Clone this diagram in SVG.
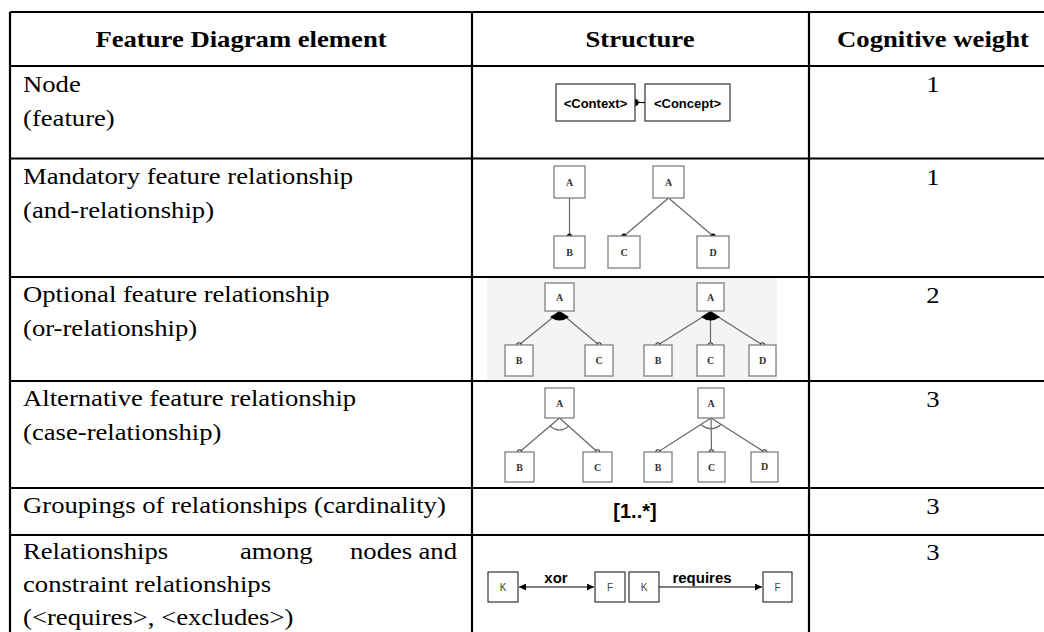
<svg xmlns="http://www.w3.org/2000/svg" width="1044" height="632" viewBox="0 0 1044 632">
<style>
.grid{stroke:#000;stroke-width:2.2;fill:none}
.hd{font-family:"Liberation Serif","Times New Roman",serif;font-weight:bold;font-size:23px;fill:#000;text-anchor:middle}
.tx{font-family:"Liberation Serif","Times New Roman",serif;font-size:23px;fill:#000}
.num{font-family:"Liberation Serif","Times New Roman",serif;font-size:23px;fill:#000;text-anchor:middle}
.box{fill:#fff;stroke:#808080;stroke-width:1.3}
.nbox{fill:#fff;stroke:#333;stroke-width:1.2}
.lbl{font-family:"Liberation Serif","Times New Roman",serif;font-weight:bold;font-size:10px;fill:#333;text-anchor:middle}
.edge{stroke:#666;stroke-width:1.2;fill:none}
.dot{fill:#000}
.odot{fill:#fff;stroke:#333;stroke-width:1.1}
.sans{font-family:"Liberation Sans",Arial,sans-serif;font-weight:bold;fill:#000}
.kf{font-family:"Liberation Sans",Arial,sans-serif;font-size:10px;fill:#444;text-anchor:middle}
</style>
<defs>
<marker id="ah" viewBox="0 0 10 10" refX="10" refY="5" markerWidth="7" markerHeight="7" orient="auto-start-reverse" markerUnits="userSpaceOnUse">
<path d="M0,0 L10,5 L0,10 Z" fill="#000"/>
</marker>
</defs>
<rect width="1044" height="632" fill="#fff"/>

<g id="table-grid" class="grid">
<line x1="10" y1="12" x2="1044" y2="12"/>
<line x1="10" y1="66" x2="1044" y2="66"/>
<line x1="10" y1="158.5" x2="1044" y2="158.5"/>
<line x1="10" y1="277" x2="1044" y2="277"/>
<line x1="10" y1="381" x2="1044" y2="381"/>
<line x1="10" y1="488" x2="1044" y2="488"/>
<line x1="10" y1="535" x2="1044" y2="535"/>
<line x1="10" y1="12" x2="10" y2="632"/>
<line x1="472" y1="12" x2="472" y2="632"/>
<line x1="809" y1="12" x2="809" y2="632"/>
</g>

<g id="header">
<text class="hd" transform="translate(241,47) scale(1.16,1)">Feature Diagram element</text>
<text class="hd" transform="translate(640,47) scale(1.16,1)">Structure</text>
<text class="hd" transform="translate(933,47) scale(1.16,1)">Cognitive weight</text>
</g>

<g id="col-element">
<text class="tx" transform="translate(23,92) scale(1.16,1)">Node</text>
<text class="tx" transform="translate(23,126) scale(1.16,1)">(feature)</text>
<text class="tx" transform="translate(23,184) scale(1.16,1)">Mandatory feature relationship</text>
<text class="tx" transform="translate(23,218) scale(1.16,1)">(and-relationship)</text>
<text class="tx" transform="translate(23,302) scale(1.16,1)">Optional feature relationship</text>
<text class="tx" transform="translate(23,336) scale(1.16,1)">(or-relationship)</text>
<text class="tx" transform="translate(23,406) scale(1.16,1)">Alternative feature relationship</text>
<text class="tx" transform="translate(23,440) scale(1.16,1)">(case-relationship)</text>
<text class="tx" transform="translate(23,513) scale(1.16,1)">Groupings of relationships (cardinality)</text>
<text class="tx" transform="translate(23,559) scale(1.16,1)">Relationships</text>
<text class="tx" transform="translate(240,559) scale(1.16,1)">among</text>
<text class="tx" transform="translate(350,559) scale(1.16,1)">nodes</text>
<text class="tx" transform="translate(457,559) scale(1.16,1)" text-anchor="end">and</text>
<text class="tx" transform="translate(23,592) scale(1.16,1)">constraint relationships</text>
<text class="tx" transform="translate(23,625) scale(1.16,1)">(&lt;requires&gt;, &lt;excludes&gt;)</text>
</g>

<g id="col-weight">
<text class="num" transform="translate(933,92) scale(1.16,1)">1</text>
<text class="num" transform="translate(933,185) scale(1.16,1)">1</text>
<text class="num" transform="translate(933,303) scale(1.16,1)">2</text>
<text class="num" transform="translate(933,407) scale(1.16,1)">3</text>
<text class="num" transform="translate(933,514) scale(1.16,1)">3</text>
<text class="num" transform="translate(933,560) scale(1.16,1)">3</text>
</g>

<rect id="optional-bg" x="487" y="278" width="290" height="102" fill="#f4f4f4"/>

<g id="connectors">
<line x1="635" y1="102.5" x2="645" y2="102.5" stroke="#000" stroke-width="1.2"/>
<circle class="dot" cx="635" cy="102.5" r="3.5"/>
<line class="edge" x1="569.5" y1="198" x2="569.5" y2="236"/>
<line class="edge" x1="668.5" y1="198" x2="624" y2="236"/>
<line class="edge" x1="668.5" y1="198" x2="713" y2="236"/>
<circle class="dot" cx="569.5" cy="236" r="2.6"/>
<circle class="dot" cx="624" cy="236" r="2.6"/>
<circle class="dot" cx="713" cy="236" r="2.6"/>
<line class="edge" x1="559.5" y1="312" x2="519" y2="345"/>
<line class="edge" x1="559.5" y1="312" x2="599" y2="345"/>
<path d="M559.5,311 L550,317 Q559.5,324 569,317 Z" fill="#000"/>
<line class="edge" x1="710.5" y1="312" x2="658" y2="345"/>
<line class="edge" x1="710.5" y1="312" x2="710.5" y2="345"/>
<line class="edge" x1="710.5" y1="312" x2="762.5" y2="345"/>
<path d="M710.5,311 L701,317 Q710.5,324 720,317 Z" fill="#000"/>
<circle class="odot" cx="519" cy="345" r="2.2"/>
<circle class="odot" cx="599" cy="345" r="2.2"/>
<circle class="odot" cx="658" cy="345" r="2.2"/>
<circle class="odot" cx="710.5" cy="345" r="2.2"/>
<circle class="odot" cx="762.5" cy="345" r="2.2"/>
<line class="edge" x1="559.5" y1="418" x2="519.5" y2="452"/>
<line class="edge" x1="559.5" y1="418" x2="597.5" y2="452"/>
<path class="edge" d="M550,426 Q559.5,434 569,426"/>
<line class="edge" x1="711" y1="418" x2="658" y2="452"/>
<line class="edge" x1="711" y1="418" x2="711.5" y2="452"/>
<line class="edge" x1="711" y1="418" x2="764.5" y2="452"/>
<path class="edge" d="M701,424.5 Q711,433 721,424.5"/>
<circle class="odot" cx="519.5" cy="452" r="2.2"/>
<circle class="odot" cx="597.5" cy="452" r="2.2"/>
<circle class="odot" cx="658" cy="452" r="2.2"/>
<circle class="odot" cx="711.5" cy="452" r="2.2"/>
<circle class="odot" cx="764.5" cy="452" r="2.2"/>
<line x1="519" y1="587" x2="594" y2="587" stroke="#000" stroke-width="1.2" marker-start="url(#ah)" marker-end="url(#ah)"/>
<line x1="659" y1="587" x2="762" y2="587" stroke="#000" stroke-width="1.2" marker-end="url(#ah)"/>
<text class="sans" x="556" y="583" font-size="15" text-anchor="middle">xor</text>
<text class="sans" x="702" y="583" font-size="15" text-anchor="middle">requires</text>
</g>

<g id="node-context">
<rect class="nbox" x="556" y="84" width="79" height="37"/>
<text class="sans" x="595.5" y="107.5" font-size="13" text-anchor="middle">&lt;Context&gt;</text>
</g>
<g id="node-concept">
<rect class="nbox" x="645" y="84" width="85" height="37"/>
<text class="sans" x="687.5" y="107.5" font-size="13" text-anchor="middle">&lt;Concept&gt;</text>
</g>

<g id="mand-A1"><rect class="box" x="554" y="166" width="31" height="32"/><text class="lbl" x="569.5" y="186">A</text></g>
<g id="mand-B1"><rect class="box" x="554" y="236" width="31" height="32"/><text class="lbl" x="569.5" y="256">B</text></g>
<g id="mand-A2"><rect class="box" x="653" y="166" width="31" height="32"/><text class="lbl" x="668.5" y="186">A</text></g>
<g id="mand-C2"><rect class="box" x="608" y="236" width="32" height="32"/><text class="lbl" x="624" y="256">C</text></g>
<g id="mand-D2"><rect class="box" x="697" y="236" width="32" height="32"/><text class="lbl" x="713" y="256">D</text></g>

<g id="opt-A1"><rect class="box" x="545" y="283" width="29" height="28"/><text class="lbl" x="559.5" y="301" font-size="9">A</text></g>
<g id="opt-B1"><rect class="box" x="505" y="345" width="28" height="31"/><text class="lbl" x="519" y="364" font-size="9">B</text></g>
<g id="opt-C1"><rect class="box" x="585" y="345" width="28" height="31"/><text class="lbl" x="599" y="364" font-size="9">C</text></g>
<g id="opt-A2"><rect class="box" x="697" y="283" width="27" height="28"/><text class="lbl" x="710.5" y="301" font-size="9">A</text></g>
<g id="opt-B2"><rect class="box" x="644" y="345" width="28" height="31"/><text class="lbl" x="658" y="364" font-size="9">B</text></g>
<g id="opt-C2"><rect class="box" x="697" y="345" width="27" height="31"/><text class="lbl" x="710.5" y="364" font-size="9">C</text></g>
<g id="opt-D2"><rect class="box" x="749" y="345" width="27" height="31"/><text class="lbl" x="762.5" y="364" font-size="9">D</text></g>

<g id="alt-A1"><rect class="box" x="545" y="388" width="29" height="30"/><text class="lbl" x="559.5" y="407" font-size="9">A</text></g>
<g id="alt-B1"><rect class="box" x="505" y="452" width="29" height="30"/><text class="lbl" x="519.5" y="471" font-size="9">B</text></g>
<g id="alt-C1"><rect class="box" x="583" y="452" width="29" height="30"/><text class="lbl" x="597.5" y="471" font-size="9">C</text></g>
<g id="alt-A2"><rect class="box" x="698" y="388" width="26" height="30"/><text class="lbl" x="711" y="407" font-size="9">A</text></g>
<g id="alt-B2"><rect class="box" x="644" y="452" width="28" height="30"/><text class="lbl" x="658" y="471" font-size="9">B</text></g>
<g id="alt-C2"><rect class="box" x="698" y="452" width="27" height="30"/><text class="lbl" x="711.5" y="471" font-size="9">C</text></g>
<g id="alt-D2"><rect class="box" x="751" y="452" width="27" height="30"/><text class="lbl" x="764.5" y="470" font-size="10" font-weight="normal" fill="#666">D</text></g>

<g id="cardinality">
<text class="sans" x="635" y="518" font-size="20" text-anchor="middle">[1..*]</text>
</g>

<g id="k1"><rect class="nbox" x="488" y="572" width="30" height="30"/><text class="kf" x="503" y="591">K</text></g>
<g id="f1"><rect class="nbox" x="595" y="572" width="30" height="30"/><text class="kf" x="610" y="591">F</text></g>
<g id="k2"><rect class="nbox" x="629" y="572" width="30" height="30"/><text class="kf" x="644" y="591">K</text></g>
<g id="f2"><rect class="nbox" x="763" y="572" width="29" height="30"/><text class="kf" x="777.5" y="591">F</text></g>
</svg>
